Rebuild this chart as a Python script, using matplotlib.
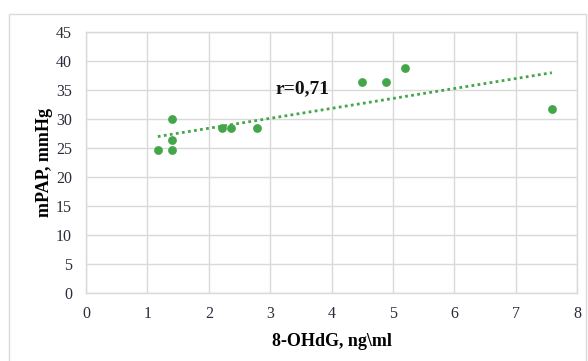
import matplotlib
matplotlib.use("Agg")
import matplotlib.pyplot as plt
import numpy as np
from matplotlib.patches import Rectangle

ohdg = [1.17, 1.40, 1.40, 1.40, 2.21, 2.36, 2.79, 4.49, 4.89, 5.19, 7.59]
mpap = [24.7, 30.0, 26.4, 24.7, 28.5, 28.5, 28.5, 36.3, 36.3, 38.8, 31.8]
x_ticks = [0, 1, 2, 3, 4, 5, 6, 7, 8]
y_ticks = [0, 5, 10, 15, 20, 25, 30, 35, 40, 45]
r_label = "r=0,71"

green = "#43a74a"
serif = "Liberation Serif"

fig = plt.figure(figsize=(5.88, 3.61), dpi=100)
fig.patches.append(Rectangle((9/588, -0.1), (586-9)/588, 1.1 - 14/361,
                             transform=fig.transFigure, fill=False,
                             edgecolor="#d9d9d9", linewidth=1.0))
ax = fig.add_axes([86/588, 1-293/361, (577-86)/588, (293-32)/361])

ax.scatter(ohdg, mpap, s=40, color=green, zorder=3, linewidths=0)
k, b = np.polyfit(ohdg, mpap, 1)
xs = np.array([min(ohdg), max(ohdg)])
ax.plot(xs, k*xs + b, linestyle=(0, (1, 1.2)), color=green, linewidth=2.0, zorder=2)

ax.set_xlim(0, 8)
ax.set_ylim(0, 45)
ax.set_xticks(x_ticks)
ax.set_yticks(y_ticks)
ax.grid(True, color="#d9d9d9", linewidth=1.0)
ax.set_axisbelow(True)
for s in ax.spines.values():
    s.set_color("#d9d9d9")
    s.set_linewidth(1.0)
ax.tick_params(length=0, labelsize=11.5, colors="#2b2b3a")
ax.tick_params(axis="x", pad=9)
ax.tick_params(axis="y", pad=10)
for lbl in ax.get_xticklabels() + ax.get_yticklabels():
    lbl.set_fontfamily(serif)

ax.set_xlabel("8-OHdG, ng\\ml", fontfamily=serif, fontweight="bold", fontsize=13, labelpad=8)
ax.set_ylabel("mPAP, mmHg", fontfamily=serif, fontweight="bold", fontsize=13, labelpad=2)

ax.text(3.08, 34.4, r_label, fontfamily=serif, fontweight="bold", fontsize=14, color="#111111")

fig.savefig("out.png", dpi=100)
